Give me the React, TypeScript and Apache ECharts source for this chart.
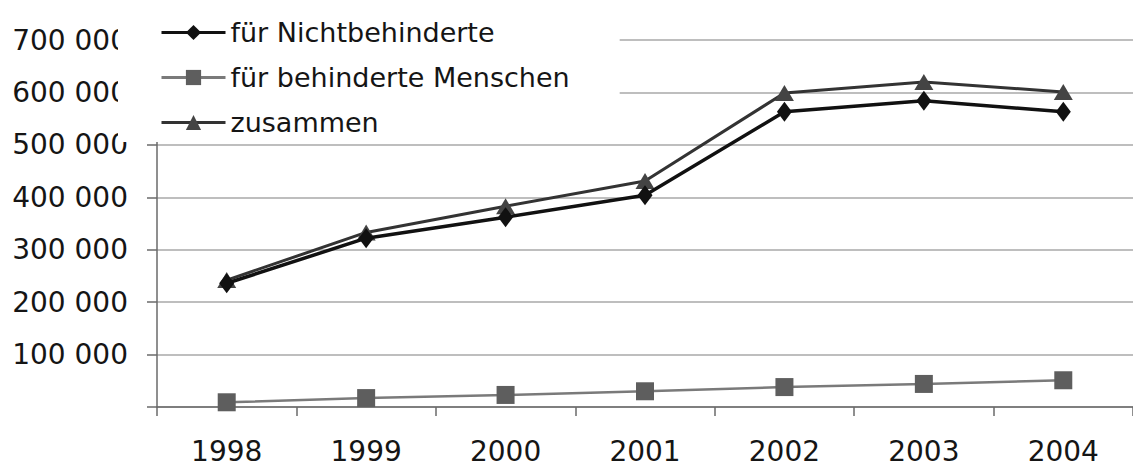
import React, { useEffect, useRef } from "react";
import * as echarts from "echarts";

const categories = ["1998", "1999", "2000", "2001", "2002", "2003", "2004"];
const seriesNames = ["für Nichtbehinderte", "für behinderte Menschen", "zusammen"];
const nichtbehinderte = [236000, 322000, 362000, 404000, 563000, 584000, 563000];
const behinderte = [9000, 17000, 23000, 30000, 38000, 44000, 51000];
const zusammen = [242000, 333000, 383000, 431000, 599000, 620000, 601000];
const yTickValues = [0, 100000, 200000, 300000, 400000, 500000, 600000, 700000];
const yTickLabels = ["", "100 000", "200 000", "300 000", "400 000", "500 000", "600 000", "700 000"];

const FONT = "DejaVu Sans";

export default function App() {
  const ref = useRef<HTMLDivElement>(null);
  useEffect(() => {
    if (!ref.current) return;
    const chart = echarts.init(ref.current, null, { renderer: "svg" });
    chart.setOption({
      animation: false,
      backgroundColor: "#ffffff",
      grid: { left: 157, top: 40, bottom: 59, right: -9 },
      legend: {
        orient: "vertical",
        left: 118,
        top: 0,
        padding: [19, 50, 6, 42],
        itemGap: 18,
        itemWidth: 64,
        itemHeight: 19,
        backgroundColor: "#ffffff",
        data: seriesNames,
        lineStyle: { width: 3 },
        textStyle: { fontFamily: FONT, fontSize: 27, color: "#151515" },
      },
      xAxis: {
        type: "category",
        data: categories,
        boundaryGap: true,
        axisLine: { show: true, lineStyle: { color: "#6a6a6a", width: 1.5 } },
        axisTick: { show: true, length: 9, lineStyle: { color: "#6a6a6a", width: 1.5 } },
        axisLabel: { fontFamily: FONT, fontSize: 28, lineHeight: 28, color: "#151515", margin: 30 },
        splitLine: { show: false },
      },
      yAxis: {
        type: "value",
        min: 0,
        max: 700000,
        interval: 100000,
        axisLine: { show: true, lineStyle: { color: "#6a6a6a", width: 1.5 } },
        axisTick: { show: true, length: 10, lineStyle: { color: "#6a6a6a", width: 1.5 } },
        axisLabel: {
          fontFamily: FONT,
          fontSize: 28,
          color: "#151515",
          margin: 29,
          formatter: (v: number) => {
            const i = yTickValues.indexOf(v);
            return i >= 0 ? yTickLabels[i] : "";
          },
        },
        splitLine: { show: true, lineStyle: { color: "#a8a8a8", width: 1.5 } },
      },
      series: [
        {
          name: seriesNames[0],
          type: "line",
          data: nichtbehinderte,
          symbol: "diamond",
          symbolSize: [15, 20],
          lineStyle: { color: "#111", width: 3.5 },
          itemStyle: { color: "#111" },
          z: 4,
        },
        {
          name: seriesNames[1],
          type: "line",
          data: behinderte,
          symbol: "rect",
          symbolSize: 18,
          lineStyle: { color: "#7a7a7a", width: 2.5 },
          itemStyle: { color: "#5e5e5e" },
          z: 3,
        },
        {
          name: seriesNames[2],
          type: "line",
          data: zusammen,
          symbol: "triangle",
          symbolSize: [19, 16],
          lineStyle: { color: "#333", width: 3 },
          itemStyle: { color: "#444" },
          z: 3,
        },
      ],
    });
    return () => chart.dispose();
  }, []);
  return (
    <div
      ref={ref}
      style={{ position: "fixed", left: 0, top: 0, width: 1133, height: 466, background: "#fff" }}
    />
  );
}
